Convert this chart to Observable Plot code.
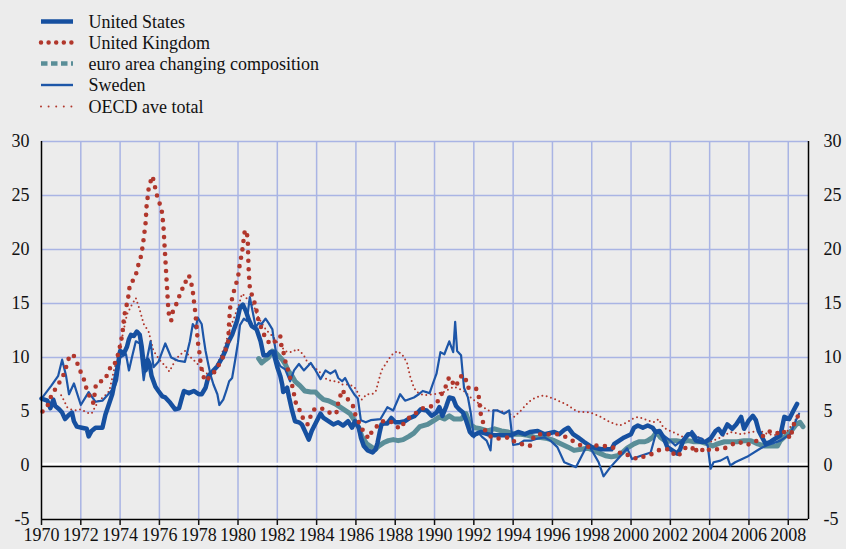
<!DOCTYPE html>
<html>
<head>
<meta charset="utf-8">
<script src="https://cdn.jsdelivr.net/npm/d3@7"></script>
<script src="https://cdn.jsdelivr.net/npm/@observablehq/plot@0.6"></script>
<style>
  html, body { margin: 0; padding: 0; background: #ececec; }
  #legend, #chart { display: block; }
  svg { display: block; }
  #chart svg, #chart svg text, #legend svg text {
    font-family: 'Liberation Serif', 'Times New Roman', serif !important;
    font-size: 18px !important;
  }
</style>
</head>
<body>
<div id="legend"></div>
<div id="chart"></div>
<script>
// ---- data (year, % change) ----
const seriesNames = ["United States", "United Kingdom", "euro area changing composition", "Sweden", "OECD ave total"];
const xTicks = d3.range(1970, 2009, 2);
const yTicks = [-5, 0, 5, 10, 15, 20, 25, 30];

const us = [[1970.0,6.2],[1970.15,6.1],[1970.3,6.0],[1970.45,5.3],[1970.6,6.1],[1970.7,5.5],[1970.9,5.2],[1971.05,4.9],[1971.2,4.3],[1971.4,4.7],[1971.55,4.9],[1971.65,4.1],[1971.8,3.6],[1972.05,3.5],[1972.3,3.4],[1972.4,2.7],[1972.55,3.2],[1972.75,3.5],[1973.1,3.5],[1973.25,4.7],[1973.4,5.5],[1973.6,6.6],[1973.7,7.5],[1973.8,8.4],[1973.95,10.0],[1974.0,10.6],[1974.2,10.4],[1974.35,11.0],[1974.45,11.7],[1974.55,12.1],[1974.7,12.0],[1974.85,12.4],[1975.0,12.1],[1975.1,11.0],[1975.2,9.4],[1975.3,8.8],[1975.4,9.8],[1975.5,9.4],[1975.6,8.3],[1975.8,7.3],[1975.95,6.9],[1976.15,6.4],[1976.3,6.3],[1976.55,5.8],[1976.8,5.2],[1977.0,5.3],[1977.15,6.3],[1977.25,6.9],[1977.5,6.7],[1977.75,6.9],[1978.0,6.6],[1978.15,6.6],[1978.35,7.2],[1978.5,8.3],[1978.7,8.7],[1978.95,9.2],[1979.2,10.0],[1979.35,10.6],[1979.5,11.4],[1979.7,12.1],[1979.95,13.4],[1980.1,14.6],[1980.25,14.9],[1980.4,14.3],[1980.55,13.5],[1980.7,12.9],[1980.95,12.6],[1981.15,11.5],[1981.3,10.2],[1981.5,10.2],[1981.65,10.5],[1981.8,10.5],[1982.0,9.1],[1982.15,8.3],[1982.25,7.5],[1982.3,6.8],[1982.5,7.2],[1982.6,6.3],[1982.75,5.1],[1982.9,4.1],[1983.1,4.0],[1983.25,3.8],[1983.4,3.2],[1983.6,2.4],[1983.75,3.2],[1984.0,4.1],[1984.2,4.8],[1984.35,4.4],[1984.6,4.1],[1984.85,3.8],[1985.1,4.0],[1985.35,3.7],[1985.6,4.1],[1985.8,3.5],[1985.95,4.1],[1986.15,3.5],[1986.25,2.6],[1986.4,1.8],[1986.6,1.4],[1986.85,1.2],[1987.0,1.5],[1987.1,2.1],[1987.2,3.0],[1987.3,3.8],[1987.45,3.9],[1987.6,3.9],[1987.8,4.4],[1988.0,4.0],[1988.25,4.0],[1988.5,4.1],[1988.75,4.4],[1989.0,4.6],[1989.3,5.2],[1989.6,5.1],[1989.85,4.6],[1990.1,4.9],[1990.25,5.4],[1990.4,4.6],[1990.6,5.5],[1990.75,6.3],[1990.95,6.2],[1991.1,5.5],[1991.25,5.2],[1991.45,4.9],[1991.6,4.2],[1991.8,3.1],[1991.95,2.8],[1992.1,2.9],[1992.35,3.1],[1992.7,2.9],[1993.05,2.8],[1993.4,2.8],[1993.9,2.8],[1994.25,3.1],[1994.6,2.9],[1994.85,3.1],[1995.25,3.2],[1995.6,2.9],[1996.1,3.1],[1996.35,2.9],[1996.6,3.3],[1996.8,3.5],[1997.05,2.9],[1997.3,2.6],[1997.6,2.2],[1998.0,1.7],[1998.5,1.5],[1999.0,1.5],[1999.15,2.0],[1999.4,2.3],[1999.65,2.6],[2000.0,2.9],[2000.15,3.5],[2000.35,3.7],[2000.6,3.5],[2000.85,3.7],[2001.1,3.5],[2001.25,3.1],[2001.45,3.2],[2001.65,2.6],[2001.85,1.7],[2002.1,1.4],[2002.35,1.1],[2002.5,1.5],[2002.65,2.3],[2002.9,2.9],[2003.1,2.9],[2003.3,2.3],[2003.55,2.2],[2003.8,2.2],[2004.05,2.5],[2004.3,3.2],[2004.45,3.4],[2004.65,2.9],[2004.9,3.8],[2005.15,3.4],[2005.35,3.8],[2005.6,4.5],[2005.75,3.4],[2006.0,4.2],[2006.2,4.6],[2006.35,4.2],[2006.5,3.2],[2006.7,2.5],[2006.85,2.0],[2007.1,2.2],[2007.35,2.5],[2007.6,2.8],[2007.8,4.5],[2008.05,4.3],[2008.3,5.2],[2008.45,5.7]];

const uk = [[1970.05,5.0],[1970.3,5.5],[1970.55,6.7],[1970.8,7.3],[1971.0,8.0],[1971.15,8.5],[1971.4,10.0],[1971.6,10.3],[1971.75,9.8],[1971.9,9.1],[1972.05,8.4],[1972.2,7.8],[1972.3,7.0],[1972.45,6.4],[1972.55,5.9],[1972.65,5.8],[1972.75,7.3],[1972.9,7.8],[1973.15,7.8],[1973.35,8.4],[1973.55,9.3],[1973.7,9.3],[1973.9,10.3],[1974.05,11.5],[1974.15,12.7],[1974.2,13.8],[1974.3,14.6],[1974.4,15.4],[1974.5,16.8],[1974.6,17.0],[1974.8,17.5],[1974.85,18.2],[1975.0,18.9],[1975.1,19.7],[1975.2,21.0],[1975.3,22.5],[1975.35,24.1],[1975.4,24.8],[1975.45,25.6],[1975.55,26.3],[1975.65,26.8],[1975.75,26.0],[1975.85,25.2],[1975.95,24.5],[1976.1,23.9],[1976.2,22.3],[1976.25,20.7],[1976.3,19.2],[1976.35,17.6],[1976.4,16.1],[1976.45,14.6],[1976.5,13.7],[1976.6,13.4],[1976.65,14.1],[1976.85,14.9],[1977.0,15.6],[1977.1,16.3],[1977.3,16.5],[1977.35,17.2],[1977.5,17.6],[1977.6,17.1],[1977.7,16.1],[1977.75,15.3],[1977.8,14.6],[1977.85,13.7],[1977.9,12.7],[1977.95,11.5],[1978.05,10.3],[1978.1,9.4],[1978.2,8.4],[1978.35,7.8],[1978.45,8.0],[1978.7,8.4],[1978.95,9.1],[1979.15,9.7],[1979.3,10.3],[1979.5,11.5],[1979.55,13.4],[1979.6,14.6],[1979.75,15.9],[1979.9,16.8],[1980.0,17.4],[1980.1,18.8],[1980.2,19.6],[1980.25,20.4],[1980.3,21.1],[1980.35,21.8],[1980.45,21.6],[1980.5,20.7],[1980.52,19.2],[1980.55,17.8],[1980.6,16.5],[1980.75,15.5],[1980.9,14.8],[1981.0,13.7],[1981.15,12.9],[1981.3,12.2],[1981.5,11.5],[1981.75,11.2],[1982.0,11.8],[1982.15,12.0],[1982.2,11.2],[1982.3,10.6],[1982.4,9.7],[1982.55,8.8],[1982.8,7.1],[1982.9,6.1],[1983.0,5.4],[1983.2,5.0],[1983.35,4.1],[1983.55,3.8],[1983.7,4.6],[1983.8,5.1],[1984.0,5.3],[1984.25,5.3],[1984.55,4.9],[1984.8,4.9],[1985.0,4.8],[1985.1,5.8],[1985.3,7.0],[1985.45,6.6],[1985.6,6.1],[1985.85,5.5],[1985.95,4.8],[1986.2,3.8],[1986.4,3.1],[1986.65,2.5],[1986.8,3.1],[1987.0,3.5],[1987.3,4.1],[1987.5,4.1],[1987.75,4.1],[1988.0,3.7],[1988.25,3.4],[1988.5,4.1],[1988.7,4.4],[1988.9,4.6],[1989.2,5.1],[1989.4,5.3],[1989.6,5.3],[1989.85,5.5],[1990.15,5.9],[1990.3,6.5],[1990.5,6.9],[1990.6,7.5],[1990.75,8.2],[1990.95,7.6],[1991.1,7.3],[1991.25,8.1],[1991.45,8.4],[1991.6,7.9],[1991.7,7.2],[1991.85,7.2],[1992.1,7.2],[1992.25,6.4],[1992.3,5.6],[1992.35,4.8],[1992.6,3.1],[1992.9,2.6],[1993.15,2.5],[1993.4,2.5],[1993.75,2.6],[1993.9,2.3],[1994.15,2.2],[1994.4,2.0],[1994.6,1.9],[1994.85,1.8],[1995.0,2.5],[1995.2,2.9],[1995.7,2.9],[1996.25,2.9],[1996.75,2.6],[1997.1,2.2],[1997.5,1.8],[1998.0,1.7],[1998.2,1.85],[1998.45,1.85],[1999.05,1.7],[1999.3,1.4],[1999.55,1.0],[1999.8,1.0],[2000.1,0.8],[2000.3,0.6],[2000.6,0.8],[2000.85,0.9],[2001.1,1.1],[2001.5,1.5],[2001.75,1.5],[2002.0,1.5],[2002.2,1.0],[2002.35,0.8],[2002.6,1.3],[2002.8,1.7],[2003.1,1.5],[2003.25,1.85],[2003.35,1.2],[2003.6,1.4],[2003.8,1.7],[2004.0,1.4],[2004.3,1.5],[2004.6,1.5],[2004.9,1.7],[2005.2,2.0],[2005.5,2.2],[2005.8,1.9],[2006.1,2.0],[2006.4,2.3],[2006.6,2.5],[2006.9,3.1],[2007.3,3.2],[2007.6,2.8],[2007.85,3.2],[2008.1,2.5],[2008.3,3.9],[2008.5,4.6],[2008.6,4.6]];

const euro = [[1981.05,9.9],[1981.2,9.5],[1981.4,9.8],[1981.55,10.0],[1981.75,10.6],[1981.9,10.5],[1982.05,10.2],[1982.25,9.8],[1982.4,9.4],[1982.55,8.8],[1982.75,8.3],[1982.9,7.8],[1983.15,7.4],[1983.4,6.9],[1983.7,6.8],[1983.95,6.8],[1984.1,6.5],[1984.35,6.1],[1984.6,6.0],[1984.95,5.7],[1985.2,5.4],[1985.45,5.1],[1985.7,4.8],[1985.95,4.1],[1986.15,3.5],[1986.3,2.7],[1986.55,2.0],[1986.8,1.7],[1987.0,1.5],[1987.15,1.8],[1987.4,2.1],[1987.65,2.3],[1987.9,2.4],[1988.15,2.3],[1988.4,2.4],[1988.7,2.7],[1988.95,3.0],[1989.25,3.6],[1989.65,3.8],[1990.0,4.2],[1990.25,4.5],[1990.5,4.3],[1990.75,4.6],[1991.0,4.3],[1991.35,4.3],[1991.6,4.8],[1991.8,3.8],[1992.05,3.5],[1992.35,3.4],[1992.7,3.2],[1993.05,3.4],[1993.4,3.2],[1993.75,3.1],[1994.05,2.9],[1994.4,2.9],[1994.75,2.8],[1995.1,2.6],[1995.4,2.6],[1995.75,2.5],[1996.1,2.3],[1996.45,2.0],[1996.8,1.7],[1997.1,1.4],[1997.45,1.5],[1997.8,1.6],[1998.1,1.4],[1998.45,1.1],[1998.7,0.9],[1999.0,0.8],[1999.3,0.9],[1999.55,1.2],[1999.8,1.6],[2000.15,2.0],[2000.4,2.2],[2000.7,2.2],[2000.85,2.3],[2001.1,2.6],[2001.3,3.1],[2001.5,2.6],[2001.8,2.2],[2002.05,2.3],[2002.3,2.3],[2002.6,2.2],[2002.9,2.3],[2003.2,2.2],[2003.55,2.2],[2003.9,2.0],[2004.15,1.8],[2004.4,2.0],[2004.75,2.2],[2005.1,2.2],[2005.4,2.2],[2005.75,2.3],[2006.1,2.3],[2006.45,2.0],[2006.8,1.8],[2007.1,1.8],[2007.45,1.8],[2007.6,2.3],[2007.9,2.8],[2008.15,3.2],[2008.4,3.8],[2008.6,4.0],[2008.75,3.6]];

const sweden = [[1970.0,6.2],[1970.5,7.4],[1970.85,8.3],[1971.05,9.8],[1971.25,8.3],[1971.4,6.6],[1971.65,7.6],[1972.0,5.6],[1972.4,6.8],[1972.75,5.9],[1973.1,6.0],[1973.5,6.8],[1973.75,7.4],[1973.85,7.9],[1974.0,10.0],[1974.3,10.3],[1974.45,8.8],[1974.6,10.0],[1974.8,11.5],[1975.0,11.3],[1975.2,7.9],[1975.35,9.7],[1975.55,11.5],[1975.7,9.1],[1975.95,9.6],[1976.3,11.3],[1976.6,10.0],[1976.95,9.7],[1977.3,9.6],[1977.55,11.5],[1977.7,13.1],[1977.85,12.7],[1977.95,13.7],[1978.05,13.4],[1978.15,13.1],[1978.25,11.8],[1978.35,10.6],[1978.45,9.7],[1978.6,8.4],[1978.75,7.5],[1978.95,6.6],[1979.05,5.6],[1979.25,6.1],[1979.4,6.9],[1979.55,7.8],[1979.7,8.1],[1979.85,9.7],[1980.0,11.4],[1980.1,13.0],[1980.3,13.6],[1980.45,13.4],[1980.6,15.6],[1980.75,14.2],[1980.9,12.8],[1981.05,13.2],[1981.2,13.1],[1981.4,13.6],[1981.55,13.2],[1981.75,12.6],[1981.8,11.9],[1982.0,9.8],[1982.15,9.2],[1982.4,8.9],[1982.65,7.8],[1982.85,8.8],[1983.1,9.4],[1983.35,8.8],[1983.7,9.5],[1983.95,8.8],[1984.2,8.0],[1984.45,8.8],[1984.7,8.5],[1984.95,8.8],[1985.1,8.1],[1985.3,7.8],[1985.45,8.1],[1985.7,7.2],[1985.95,6.5],[1986.1,6.2],[1986.25,4.2],[1986.5,4.0],[1986.75,4.2],[1987.25,4.3],[1987.6,5.4],[1987.9,5.1],[1988.25,6.6],[1988.5,6.0],[1988.95,6.3],[1989.2,6.6],[1989.4,6.9],[1989.75,6.7],[1989.9,7.5],[1990.1,8.5],[1990.3,10.5],[1990.5,10.3],[1990.75,11.5],[1990.95,10.5],[1991.05,13.3],[1991.15,10.6],[1991.35,10.2],[1991.45,8.2],[1991.5,7.2],[1991.7,6.3],[1991.85,4.8],[1992.0,2.6],[1992.2,3.1],[1992.45,2.6],[1992.65,2.3],[1992.85,1.4],[1993.0,5.1],[1993.2,5.1],[1993.55,4.8],[1993.8,5.1],[1994.0,1.9],[1994.3,2.0],[1994.55,2.3],[1994.9,2.3],[1995.25,2.5],[1995.6,2.6],[1995.9,2.3],[1996.25,1.7],[1996.6,0.3],[1997.0,0.0],[1997.2,-0.15],[1997.8,2.0],[1998.1,1.1],[1998.35,0.3],[1998.6,-1.0],[1998.95,-0.15],[1999.35,0.65],[1999.8,1.6],[2000.05,0.6],[2000.5,0.9],[2001.0,1.2],[2001.3,3.2],[2001.65,2.8],[2002.0,2.3],[2002.25,1.85],[2002.5,2.2],[2002.85,2.6],[2003.1,3.2],[2003.35,2.6],[2003.6,2.5],[2003.9,1.85],[2004.05,-0.3],[2004.2,0.3],[2004.55,0.45],[2004.9,0.8],[2005.05,0.0],[2005.3,0.3],[2005.9,0.8],[2006.6,1.6],[2006.9,1.85],[2007.6,2.3],[2008.1,2.9],[2008.35,4.0],[2008.55,4.8]];

const oecd = [[1971.0,6.5],[1971.15,6.0],[1971.3,5.4],[1971.5,5.2],[1971.8,5.1],[1972.0,5.2],[1972.3,4.9],[1972.55,4.8],[1972.9,6.0],[1973.2,6.4],[1973.45,6.9],[1973.7,8.9],[1974.0,11.0],[1974.2,12.7],[1974.35,14.0],[1974.6,14.9],[1974.8,15.5],[1975.0,14.4],[1975.2,13.1],[1975.45,12.4],[1975.7,10.6],[1976.0,9.8],[1976.4,9.0],[1976.5,8.7],[1976.8,9.7],[1977.0,10.2],[1977.3,10.6],[1977.6,10.0],[1977.9,9.5],[1978.25,8.7],[1978.6,8.3],[1978.95,9.4],[1979.3,10.9],[1979.6,12.7],[1980.05,14.9],[1980.2,15.9],[1980.35,15.7],[1980.55,15.2],[1980.8,14.8],[1980.95,14.0],[1981.2,13.2],[1981.45,12.5],[1981.75,12.0],[1982.0,11.4],[1982.25,10.9],[1982.5,10.5],[1982.75,10.5],[1983.0,10.8],[1983.15,10.6],[1983.35,10.2],[1983.55,9.5],[1983.75,9.2],[1984.0,8.9],[1984.25,8.5],[1984.5,8.0],[1984.8,7.8],[1985.05,7.8],[1985.3,7.5],[1985.55,7.5],[1985.8,7.4],[1986.0,7.1],[1986.15,6.5],[1986.3,6.1],[1986.55,6.6],[1986.8,6.6],[1987.0,6.8],[1987.15,7.8],[1987.3,8.8],[1987.55,9.5],[1987.8,10.2],[1988.1,10.6],[1988.35,10.3],[1988.6,9.5],[1988.75,8.3],[1988.95,7.2],[1989.1,6.8],[1989.45,6.5],[1989.97,6.6],[1990.47,6.8],[1990.98,7.3],[1991.5,6.9],[1991.9,6.2],[1992.35,5.6],[1992.7,5.1],[1993.2,5.1],[1993.7,4.9],[1994.05,4.5],[1994.4,5.1],[1994.8,5.9],[1995.15,6.3],[1995.55,6.5],[1995.9,6.3],[1996.3,6.0],[1996.75,5.6],[1997.25,5.0],[1997.95,4.9],[1998.45,4.5],[1998.95,4.0],[1999.4,3.7],[1999.8,4.0],[2000.15,4.4],[2000.4,4.5],[2000.8,4.2],[2001.15,4.0],[2001.4,4.3],[2001.65,3.5],[2002.0,3.2],[2002.35,2.9],[2002.7,2.6],[2003.1,2.9],[2003.55,2.5],[2004.05,2.2],[2004.55,2.6],[2005.05,3.1],[2005.6,2.9],[2006.1,3.1],[2006.6,3.2],[2006.95,2.9],[2007.45,2.8],[2007.95,3.2],[2008.3,4.0],[2008.55,4.8]];

// ---- styles ----
const FONT = "'Liberation Serif', 'Times New Roman', serif";
const GRID = "#a9b4e4";
const C_US = "#1650a0", C_UK = "#b1372c", C_EU = "#5a8e98", C_SE = "#1d56a8";

const styles = [
  {name: seriesNames[0], stroke: C_US, strokeWidth: 4.5},
  {name: seriesNames[1], stroke: C_UK, strokeWidth: 4.5, strokeDasharray: "0 7.6", strokeLinecap: "round"},
  {name: seriesNames[2], stroke: C_EU, strokeWidth: 4.5, strokeDasharray: "6.5 3.5"},
  {name: seriesNames[3], stroke: C_SE, strokeWidth: 2.4},
  {name: seriesNames[4], stroke: C_UK, strokeWidth: 2, strokeDasharray: "0 7.6", strokeLinecap: "round"}
];

// ---- legend (above the chart) ----
const leg = d3.select("#legend").append("svg").attr("width", 846).attr("height", 120);
const rowY = [21.5, 42.5, 63.5, 85, 106.5];
styles.forEach((s, i) => {
  leg.append("line").attr("x1", 41).attr("x2", 73).attr("y1", rowY[i]).attr("y2", rowY[i])
    .attr("stroke", s.stroke).attr("stroke-width", s.strokeWidth)
    .attr("stroke-dasharray", s.strokeDasharray || null)
    .attr("stroke-linecap", s.strokeLinecap || "butt");
  leg.append("text").attr("x", 88.5).attr("y", rowY[i]).attr("dy", "0.35em")
    .attr("fill", "#111").text(s.name);
});

// ---- chart ----
const line = (data, opts) => Plot.line(data, {x: d => d[0], y: d => d[1], ...opts});
const chart = Plot.plot({
  width: 846,
  height: 429,
  marginTop: 21,
  marginBottom: 30,
  marginLeft: 41,
  marginRight: 38,
  style: {background: "transparent", fontFamily: FONT, fontSize: "18px", color: "#111"},
  x: {domain: [1970, 2009.03], ticks: xTicks, tickFormat: d => String(d), label: null},
  y: {domain: [-5, 30], ticks: yTicks, tickFormat: d => String(d), label: null},
  marks: [
    Plot.ruleX(xTicks.filter(d => d > 1970), {stroke: GRID, strokeWidth: 1.5}),
    Plot.ruleY(yTicks.filter(d => d > 0), {stroke: GRID, strokeWidth: 1.5}),
    Plot.ruleY([0], {stroke: "#ffffff", strokeWidth: 2.5, dy: -1.5}),
    Plot.ruleY([0], {stroke: "#000", strokeWidth: 1.5, dy: 1}),
    line(euro, {stroke: C_EU, strokeWidth: 5}),
    line(oecd, {stroke: C_UK, strokeWidth: 2, strokeDasharray: "0 4.5", strokeLinecap: "round"}),
    line(sweden, {stroke: C_SE, strokeWidth: 2.2}),
    line(us, {stroke: C_US, strokeWidth: 4.5}),
    line(uk, {stroke: C_UK, strokeWidth: 4.6, strokeDasharray: "0 8.5", strokeLinecap: "round"}),
    Plot.ruleX([1970], {stroke: "#000", strokeWidth: 1.5}),
    Plot.ruleX([2009.03], {stroke: "#000", strokeWidth: 1.5}),
    Plot.ruleY([-5], {stroke: "#000", strokeWidth: 1.5}),
    Plot.axisY({anchor: "left", ticks: yTicks, tickFormat: d => String(d), tickSize: 0, tickPadding: 12, label: null}),
    Plot.axisY({anchor: "right", ticks: yTicks, tickFormat: d => String(d), tickSize: 0, tickPadding: 15, label: null}),
    Plot.axisX({anchor: "bottom", ticks: xTicks, tickFormat: d => String(d), tickSize: 6, tickPadding: 3, label: null, strokeWidth: 1.5})
  ]
});
document.getElementById("chart").appendChild(chart);
</script>
</body>
</html>
